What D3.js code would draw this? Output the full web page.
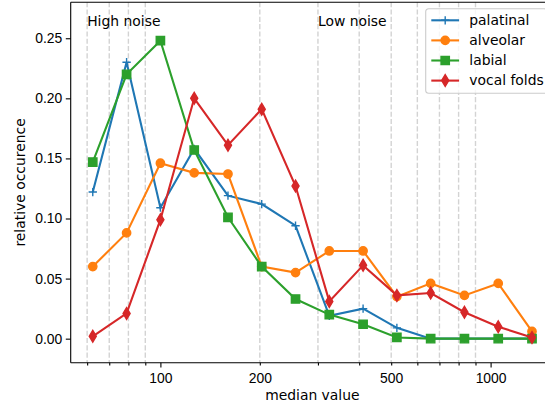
<!DOCTYPE html>
<meta charset="utf-8">
<style>
body { margin: 0; background: #fff; }
svg { display: block; font-family: "DejaVu Sans", sans-serif; }
.axis text { font-size: 13.9px; fill: #000; }
.axis path, .axis line { stroke: #000; stroke-width: 1.1; }
.grid line { stroke: #d3d3d3; stroke-width: 1.4; stroke-dasharray: 5.1,2.2; }
.series path.line { fill: none; stroke-width: 2.1; }
.note { font-size: 13.9px; }
</style>
<svg class="chart"></svg>
<script src="https://d3js.org/d3.v7.min.js"></script>
<script>

// bin centres (median value) and relative occurence per class
var xVals = [62.4, 79.0, 100, 126.6, 160.2, 202.7, 256.6, 324.7, 411.0, 520.2, 658.4, 833.2, 1054.6, 1334.7];
var palatinal  = [0.122, 0.230, 0.109, 0.158, 0.119, 0.112, 0.094, 0.019, 0.025, 0.009, 0.000, 0.000, 0.000, 0.000];
var alveolar   = [0.060, 0.088, 0.146, 0.138, 0.137, 0.060, 0.055, 0.073, 0.073, 0.035, 0.046, 0.036, 0.046, 0.006];
var labial     = [0.147, 0.220, 0.248, 0.157, 0.101, 0.060, 0.033, 0.020, 0.012, 0.001, 0.000, 0.000, 0.000, 0.000];
var vocalFolds = [0.002, 0.021, 0.099, 0.200, 0.161, 0.191, 0.127, 0.031, 0.061, 0.036, 0.038, 0.022, 0.010, 0.001];

var seriesNames = ["palatinal", "alveolar", "labial", "vocal folds"];
var majorTicks = [100, 1000];
var minorTicks = [60, 70, 80, 90, 200, 300, 400, 500, 600, 700, 800, 900];
var minorLabels = [200, 500];
var yTicks = [0, 0.05, 0.10, 0.15, 0.20, 0.25];
var notes = [{x: 60, y: 0.26, text: "High noise"}, {x: 300, y: 0.26, text: "Low noise"}];

var W = 545, H = 409;
var pLeft = 70.7, pRight = 554, pTop = 2.2, pBottom = 362.7;

var svg = d3.select(".chart").attr("width", W).attr("height", H);

var x = d3.scaleLog().domain([53.5, 1556]).range([pLeft, pRight]);
var y = d3.scaleLinear().domain([-0.02, 0.28]).range([pBottom, pTop]);

// dashed grid on minor ticks
svg.append("g").attr("class", "grid")
  .selectAll("line").data(minorTicks).enter().append("line")
    .attr("x1", function(d){ return x(d); })
    .attr("x2", function(d){ return x(d); })
    .attr("y1", pTop).attr("y2", pBottom);

var series = [
  {name: seriesNames[0], values: palatinal, color: "#1f77b4", marker: "plus"},
  {name: seriesNames[1], values: alveolar, color: "#ff7f0e", marker: "circle"},
  {name: seriesNames[2], values: labial, color: "#2ca02c", marker: "square"},
  {name: seriesNames[3], values: vocalFolds, color: "#d62728", marker: "thin_diamond"}
];

var ms = 8.33;
function markerPath(type) {
  var h = ms / 2;
  if (type === "plus") return "M" + (-h) + ",0H" + h + "M0," + (-h) + "V" + h;
  if (type === "circle") return d3.symbol(d3.symbolCircle, Math.PI * h * h)();
  if (type === "square") return "M" + (-h) + "," + (-h) + "H" + h + "V" + h + "H" + (-h) + "Z";
  var dy = ms * Math.SQRT2 / 2, dx = dy * 0.6;
  return "M0," + (-dy) + "L" + dx + ",0L0," + dy + "L" + (-dx) + ",0Z";
}
function drawMarker(sel, s) {
  sel.attr("d", markerPath(s.marker))
    .attr("fill", s.marker === "plus" ? "none" : s.color)
    .attr("stroke", s.color)
    .attr("stroke-width", 1.39);
}

var line = d3.line()
  .x(function(d, i){ return x(xVals[i]); })
  .y(function(d){ return y(d); });

series.forEach(function(s) {
  var g = svg.append("g").attr("class", "series");
  g.append("path").attr("class", "line")
    .attr("d", line(s.values))
    .attr("stroke", s.color);
  g.selectAll("path.mk").data(s.values).enter().append("path")
    .attr("class", "mk")
    .attr("transform", function(d, i){ return "translate(" + x(xVals[i]) + "," + y(d) + ")"; })
    .call(drawMarker, s);
});

// axes
var fmtNum = d3.format("d");
svg.append("g").attr("class", "axis xaxis")
  .attr("transform", "translate(0," + pBottom + ")")
  .call(d3.axisBottom(x).tickValues(majorTicks).tickSize(4.9).tickPadding(5.7).tickFormat(fmtNum));
svg.append("g").attr("class", "axis")
  .attr("transform", "translate(0," + pBottom + ")")
  .call(d3.axisBottom(x).tickValues(minorTicks).tickSize(2.8).tickPadding(7.8)
    .tickFormat(function(d){ return minorLabels.indexOf(d) >= 0 ? fmtNum(d) : ""; }))
  .select(".domain").remove();
svg.append("g").attr("class", "axis yaxis")
  .attr("transform", "translate(" + pLeft + ",0)")
  .call(d3.axisLeft(y).tickValues(yTicks).tickSize(4.9).tickPadding(3.5).tickFormat(d3.format(".2f")));

svg.select(".xaxis .domain").attr("d", "M" + pLeft + ",0H" + pRight);
svg.select(".yaxis .domain").attr("d", "M0," + pTop + "V" + pBottom);

// remaining spines
svg.append("line").attr("x1", pLeft).attr("x2", pRight).attr("y1", pTop).attr("y2", pTop)
  .attr("stroke", "#000").attr("stroke-width", 1.1);
svg.append("line").attr("x1", pRight).attr("x2", pRight).attr("y1", pTop).attr("y2", pBottom)
  .attr("stroke", "#000").attr("stroke-width", 1.1);

// axis labels
svg.append("text").attr("class", "note")
  .attr("x", (pLeft + pRight) / 2).attr("y", 400)
  .attr("text-anchor", "middle").text("median value");
svg.append("text").attr("class", "note")
  .attr("transform", "translate(25," + (pTop + pBottom) / 2 + ") rotate(-90)")
  .attr("text-anchor", "middle").text("relative occurence");

// region notes
svg.selectAll("text.region").data(notes).enter().append("text")
  .attr("class", "note region")
  .attr("x", function(d){ return x(d.x); })
  .attr("y", function(d){ return y(d.y); })
  .text(function(d){ return d.text; });

// legend
var lg = svg.append("g").attr("transform", "translate(425.7,8.8)");
lg.append("rect").attr("width", 121.3).attr("height", 84.5).attr("rx", 3)
  .attr("fill", "#fff").attr("fill-opacity", 0.8)
  .attr("stroke", "#cccccc").attr("stroke-width", 1.1);
series.forEach(function(s, i) {
  var row = lg.append("g").attr("transform", "translate(0," + (11.5 + i * 20.1) + ")");
  row.append("line").attr("x1", 5.6).attr("x2", 33.4)
    .attr("stroke", s.color).attr("stroke-width", 2.1);
  row.append("path").attr("transform", "translate(19.5,0)").call(drawMarker, s);
  row.append("text").attr("class", "note").attr("x", 43.6).attr("dy", "0.35em").text(s.name);
});
</script>
